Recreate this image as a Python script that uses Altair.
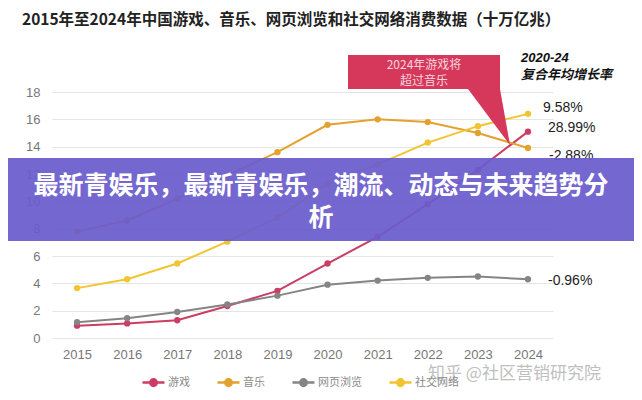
import altair as alt
import pandas as pd

# ---------------- data ----------------
years = [2015, 2016, 2017, 2018, 2019, 2020, 2021, 2022, 2023, 2024]
series_names = ["游戏", "音乐", "网页浏览", "社交网络"]
games = [0.9, 1.07, 1.3, 2.34, 3.45, 5.45, 7.4, 9.8, 12.3, 15.1]
music = [7.8, 8.6, 10.2, 11.9, 13.6, 15.6, 16.0, 15.8, 15.0, 13.9]
web = [1.15, 1.45, 1.9, 2.45, 3.1, 3.9, 4.2, 4.4, 4.5, 4.3]
social = [3.65, 4.3, 5.45, 7.05, 8.8, 11.3, 12.7, 14.3, 15.5, 16.4]
y_ticks = [0, 2, 4, 6, 8, 10, 12, 14, 16, 18]
series_colors = ["#cc3d63", "#e3a12f", "#858585", "#f2c430"]

title_text = "2015年至2024年中国游戏、音乐、网页浏览和社交网络消费数据（十万亿兆）"
cagr_head = ["2020-24", "复合年均增长率"]
cagr_social, cagr_games, cagr_music, cagr_web = "9.58%", "28.99%", "-2.88%", "-0.96%"
callout_lines = ["2024年游戏将", "超过音乐"]
banner_lines = ["最新青娱乐，最新青娱乐，潮流、动态与未来趋势分", "析"]
watermark = "知乎 @社区营销研究院"

rows = []
for name, vals in zip(series_names, [games, music, web, social]):
    for yr, v in zip(years, vals):
        rows.append({"year": str(yr), "series": name, "value": v})
df = pd.DataFrame(rows)

W, H = 501, 246
FONT = "Liberation Sans"
CJK = "Noto Sans CJK SC"

x_enc = alt.X("year:O", title=None,
              scale=alt.Scale(type="point", padding=0.5),
              axis=alt.Axis(labelAngle=0, ticks=False, domain=False, grid=False,
                            labelPadding=10, labelFontSize=13, labelColor="#777",
                            labelFont=FONT, labelOverlap=False))
y_enc = alt.Y("value:Q", title=None,
              scale=alt.Scale(domain=[0, 18], nice=False, zero=True),
              axis=alt.Axis(values=y_ticks, ticks=False, domain=False, grid=True,
                            gridColor="#e4e4e4", labelPadding=12, labelFontSize=13,
                            labelColor="#777", labelFont=FONT, labelOverlap=False,
                            labelFlush=False, labelBound=False))
color_scale = alt.Scale(domain=series_names, range=series_colors)
color_enc = alt.Color("series:N", title=None, scale=color_scale,
                      legend=alt.Legend(orient="none", legendX=89, legendY=278,
                                        direction="horizontal",
                                        symbolType="M-1,0 L1,0 M0.3,0 A0.3,0.3 0 1,1 -0.3,0 A0.3,0.3 0 1,1 0.3,0 Z",
                                        symbolSize=484, symbolStrokeWidth=2.5,
                                        labelFont=CJK, labelFontSize=11,
                                        labelColor="#8a8a8a", columnPadding=22,
                                        labelOffset=2, padding=0))

base = alt.Chart(df)
lines = base.mark_line(strokeWidth=2).encode(x=x_enc, y=y_enc, color=color_enc)
points = base.mark_point(filled=True, size=40, opacity=1).encode(
    x=x_enc, y=y_enc, color=color_enc)

one = pd.DataFrame({"k": [0]})


def label(text, x, y, **kw):
    return alt.Chart(one).mark_text(**kw).encode(
        x=alt.value(x), y=alt.value(y), text=alt.value(text))


# title
title = label(title_text, -30, -72, align="left", baseline="middle",
              font=CJK, fontSize=15.5, fontWeight="bold", color="#222")

# CAGR labels
head1 = label(cagr_head[0], 469, -34, align="left", baseline="middle", font=FONT,
              fontSize=13, fontWeight="bold", fontStyle="italic", color="#111")
head2 = label(cagr_head[1], 469, -17, align="left", baseline="middle", font=CJK,
              fontSize=13, fontWeight="bold", fontStyle="italic", color="#111")
lab_kw = dict(align="left", baseline="middle", font=FONT, fontSize=14, color="#222")
l1 = label(cagr_social, 491, 16, **lab_kw)
l2 = label(cagr_games, 496, 36, **lab_kw)
l3 = label(cagr_music, 497, 64, **lab_kw)
l4 = label(cagr_web, 496, 189, **lab_kw)

# callout box + pointer
box = alt.Chart(one).mark_rect(color="#d6385c").encode(
    x=alt.value(296), x2=alt.value(448), y=alt.value(-37), y2=alt.value(-3))
tri_df = pd.DataFrame({"px": [416, 448, 458], "py": [-3, -3, 53], "py2": [-3, 39.7, 53]})
tri = alt.Chart(tri_df).mark_area(color="#d6385c").encode(
    x=alt.X("px:Q", scale=None, axis=None),
    y=alt.Y("py:Q", scale=None, axis=None),
    y2="py2:Q")
c1 = label(callout_lines[0], 372, -27, align="center", baseline="middle", font=CJK,
           fontSize=12, color="#f7d6de")
c2 = label(callout_lines[1], 372, -11, align="center", baseline="middle", font=CJK,
           fontSize=12, color="#f7d6de")

# banner
banner = alt.Chart(one).mark_rect(color="#6b5bcc", opacity=0.93).encode(
    x=alt.value(-52), x2=alt.value(590), y=alt.value(66), y2=alt.value(149))
b1 = label(banner_lines[0], 269, 94, align="center", baseline="middle", font=CJK,
           fontSize=25, fontWeight="bold", color="#ffffff")
b2 = label(banner_lines[1], 269, 126, align="center", baseline="middle", font=CJK,
           fontSize=25, fontWeight="bold", color="#ffffff")

wm = label(watermark, 376, 282, align="left", baseline="middle", font=CJK,
           fontSize=17, color="#b5b5b5", opacity=0.85)

chart = alt.layer(
    lines, points, tri, box, c1, c2, title, head1, head2, l1, l2, l3, l4,
    banner, b1, b2, wm
).properties(
    width=W, height=H,
    autosize=alt.AutoSizeParams(type="none"),
    padding={"left": 44, "top": 84, "right": 81, "bottom": 50},
    background="white",
).configure_view(stroke=None)

chart.save("out.html", embed_options={"renderer": "svg", "actions": False})
